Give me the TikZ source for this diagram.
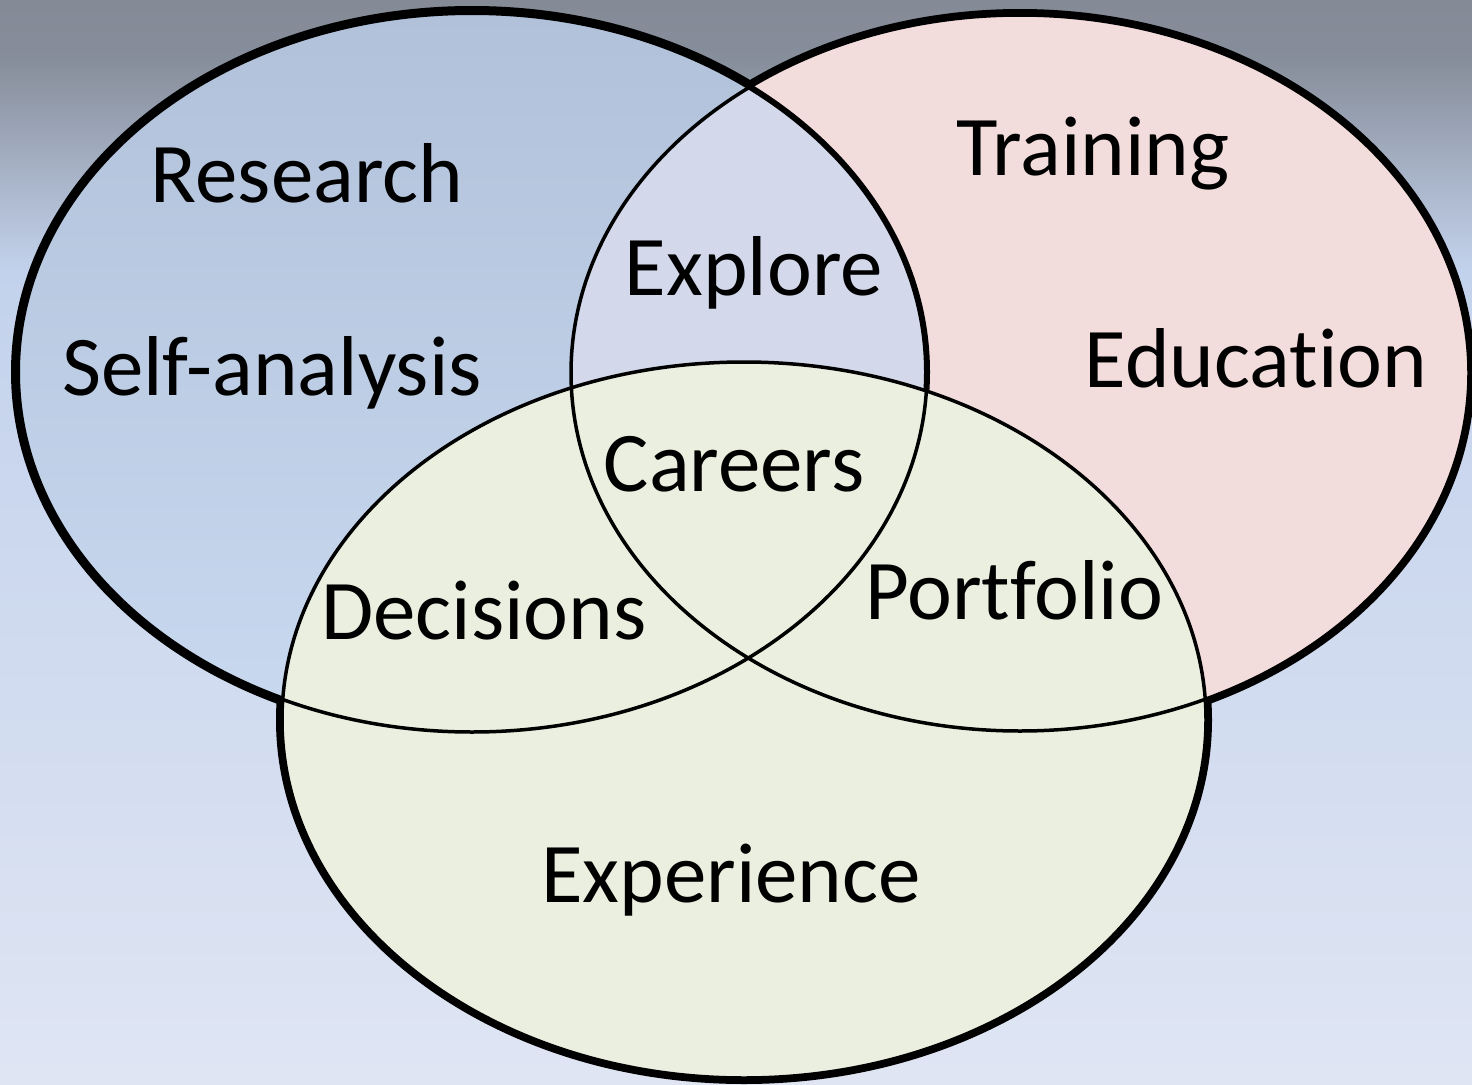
\documentclass[tikz,border=0pt]{standalone}
\usepackage{fontspec}
\setmainfont{Carlito}[Ligatures={NoCommon,NoContextual}]
\definecolor{bgtop}{HTML}{848A96}
\definecolor{bgtop2}{HTML}{878E9B}
\definecolor{bgmid}{HTML}{C3D2EC}
\definecolor{bgbot}{HTML}{DFE5F3}
\definecolor{bluetop}{HTML}{B0C1D9}
\definecolor{bluebot}{HTML}{C9D9F0}
\definecolor{pinkfill}{HTML}{F2DCDC}
\definecolor{lavfill}{HTML}{D3D9EA}
\definecolor{greenfill}{HTML}{EBEFDF}
% vertical shading: 25bp = bottom of picture, 75bp = top (1084px over 50bp)
\pgfdeclareverticalshading{bgshade}{100bp}{%
  color(0bp)=(bgbot); color(25bp)=(bgbot); color(62.5bp)=(bgmid);
  color(72.2bp)=(bgtop2); color(75bp)=(bgtop); color(100bp)=(bgtop)}
\tikzset{
  ellL/.style={insert path={(472,372) ellipse [x radius=455pt, y radius=360pt]}},
  ellR/.style={insert path={(1020,373) ellipse [x radius=449pt, y radius=358pt]}},
  ellG/.style={insert path={(744,720) ellipse [x radius=462pt, y radius=358pt]}},
  lbl/.style={anchor=base, inner sep=0pt, font=\fontsize{85}{100}\selectfont, text=black},
  thin/.style={draw=black, line width=3.5pt},
  under/.style={draw=black, line width=12pt}
}
\begin{document}
\begin{tikzpicture}[x=1pt,y=-1pt]
\shade[shading=bgshade] (0,0) rectangle (1472,1084);
\useasboundingbox (0,0) rectangle (1472,1084);
% thick outer underlay
\path[under, ellR];
\path[under, ellL];
\path[under, ellG];
% fills of upper two sets
\fill[pinkfill, ellR];
\shade[top color=bluetop, bottom color=bluebot, ellL];
\begin{scope}
  \clip[ellL];
  \fill[lavfill, ellR];
\end{scope}
\path[thin, ellR];
\path[draw=black, line width=6pt, ellL];
% bottom set
\fill[greenfill, ellG];
\path[thin, ellG];
\begin{scope}
  \clip[ellG];
  \path[thin, ellL];
  \path[thin, ellR];
\end{scope}
% labels
\node[lbl] (research) at (307,202) {Research};
\node[lbl] (selfanalysis) at (272,395) {Self-analysis};
\node[lbl] (training) at (1093,175) {Training};
\node[lbl] (education) at (1256,387) {Education};
\node[lbl] (explore) at (754,295) {Explore};
\node[lbl] (careers) at (734,491) {Careers};
\node[lbl] (decisions) at (484,639) {Decisions};
\node[lbl] (portfolio) at (1014,619) {Portfolio};
\node[lbl] (experience) at (731,902) {Experience};
\end{tikzpicture}
\end{document}
